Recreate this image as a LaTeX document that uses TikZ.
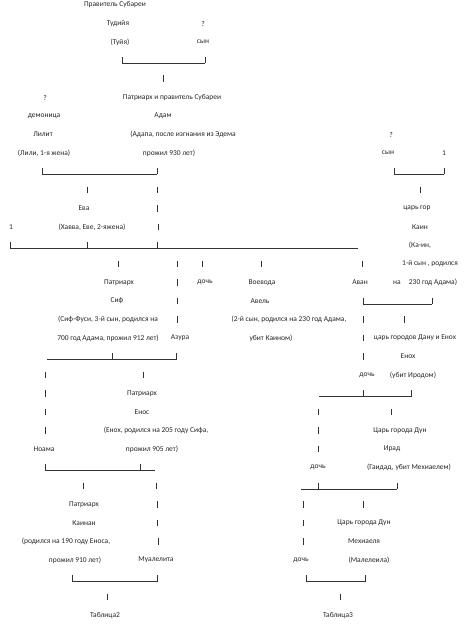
\documentclass[tikz,border=0pt]{standalone}
\usepackage{fontspec}
\setmainfont{Carlito}
\newcommand{\myry}[1]{(5+18.5*(#1))}
\newcommand{\myvb}[2]{\draw[ln] (#1,{\myry{#2}-3.5}) -- (#1,{\myry{#2}+3});}
\newcommand{\myhb}[3]{\draw[ln] (#1,{\myry{#3}+2.8}) -- (#2,{\myry{#3}+2.8});}
\begin{document}
\begin{tikzpicture}[x=1bp,y=-1bp,
  lbl/.style={inner sep=0pt, text=black!85, font=\fontsize{7.5}{9}\selectfont},
  ln/.style={line width=0.55bp, draw=black!80}]
\useasboundingbox (0,0) rectangle (472,632);
% row 0-4
\node[lbl] (r0a) at (115,{\myry{0}}) {Правитель Субареи};
\node[lbl] (r1a) at (118,{\myry{1}}) {Тудийя};
\node[lbl] (r1b) at (203,{\myry{1}}) {?};
\node[lbl] (r2a) at (120,{\myry{2}}) {(Туйя)};
\node[lbl] (r2b) at (203,{\myry{2}}) {сын};
\myvb{122}{3}\myhb{122}{205}{3}\myvb{205}{3}
\myvb{163}{4}
% row 5-8
\node[lbl] (r5a) at (45,{\myry{5}}) {?};
\node[lbl] (r5b) at (172,{\myry{5}}) {Патриарх и правитель Субареи};
\node[lbl] (r6a) at (44,{\myry{6}}) {демоница};
\node[lbl] (r6b) at (163,{\myry{6}}) {Адам};
\node[lbl] (r7a) at (43,{\myry{7}}) {Лилит};
\node[lbl] (r7b) at (183,{\myry{7}}) {(Адапа, после изгнания из Эдема};
\node[lbl] (r7c) at (391,{\myry{7}}) {?};
\node[lbl] (r8a) at (44,{\myry{8}}) {(Лили, 1-я жена)};
\node[lbl] (r8b) at (169,{\myry{8}}) {прожил 930 лет)};
\node[lbl] (r8c) at (388,{\myry{8}}) {сын};
\node[lbl] (r8d) at (444,{\myry{8}}) {1};
% row 9-13
\myvb{42}{9}\myhb{42}{157}{9}\myvb{157}{9}
\myvb{394}{9}\myhb{394}{444}{9}\myvb{444}{9}
\myvb{87}{10}\myvb{157}{10}\myvb{420}{10}
\node[lbl] (r11a) at (84,{\myry{11}}) {Ева};
\myvb{157}{11}
\node[lbl] (r11b) at (417,{\myry{11}}) {царь гор};
\node[lbl] (r12a) at (11,{\myry{12}}) {1};
\node[lbl] (r12b) at (92,{\myry{12}}) {(Хавва, Еве, 2-яжена)};
\myvb{158}{12}
\node[lbl] (r12c) at (420,{\myry{12}}) {Каин};
\myvb{10}{13}\myhb{10}{87}{13}\myvb{87}{13}\myhb{87}{157}{13}\myvb{157}{13}\myhb{157}{358}{13}
\node[lbl] (r13a) at (420,{\myry{13}}) {(Ка-ин,};
% row 14-18
\myvb{118}{14}\myvb{177}{14}\myvb{202}{14}\myvb{261}{14}\myvb{362}{14}
\node[lbl] (r14a) at (430,{\myry{14}}) {1-й сын , родился};
\node[lbl] (r15a) at (119,{\myry{15}}) {Патриарх};
\myvb{177}{15}
\node[lbl] (r15b) at (205,{\myry{15}}) {дочь};
\node[lbl] (r15c) at (262,{\myry{15}}) {Воевода};
\node[lbl] (r15d) at (360,{\myry{15}}) {Аван};
\node[lbl] (r15e) at (397,{\myry{15}}) {на};
\node[lbl] (r15f) at (433,{\myry{15}}) {230 год Адама)};
\node[lbl] (r16a) at (117,{\myry{16}}) {Сиф};
\myvb{177}{16}
\node[lbl] (r16b) at (260,{\myry{16}}) {Авель};
\myvb{363}{16}\myhb{363}{432}{16}\myvb{432}{16}
\node[lbl] (r17a) at (108,{\myry{17}}) {(Сиф-Фуси, 3-й сын, родился на};
\myvb{177}{17}
\node[lbl] (r17b) at (289,{\myry{17}}) {(2-й сын, родился на 230 год Адама,};
\myvb{363}{17}\myvb{404}{17}
\node[lbl] (r18a) at (108,{\myry{18}}) {700 год Адама, прожил 912 лет)};
\node[lbl] (r18b) at (180,{\myry{18}}) {Азура};
\node[lbl] (r18c) at (271,{\myry{18}}) {убит Каином)};
\myvb{363}{18}
\node[lbl] (r18d) at (415,{\myry{18}}) {царь городов Дану и Енох};
% row 19-24
\myhb{47}{112}{19}\myvb{112}{19}\myhb{112}{176}{19}\myvb{176}{19}
\myvb{363}{19}
\node[lbl] (r19a) at (408,{\myry{19}}) {Енох};
\myvb{45}{20}\myvb{143}{20}
\node[lbl] (r20a) at (367,{\myry{20}}) {дочь};
\node[lbl] (r20b) at (413,{\myry{20}}) {(убит Иродом)};
\myvb{45}{21}
\node[lbl] (r21a) at (142,{\myry{21}}) {Патриарх};
\myhb{319}{363}{21}\myvb{363}{21}\myhb{363}{411}{21}\myvb{411}{21}
\myvb{45}{22}
\node[lbl] (r22a) at (142,{\myry{22}}) {Енос};
\myvb{318}{22}\myvb{391}{22}
\myvb{45}{23}
\node[lbl] (r23a) at (156,{\myry{23}}) {(Енох, родился на 205 году Сифа,};
\myvb{318}{23}
\node[lbl] (r23b) at (400,{\myry{23}}) {Царь города Дун};
\node[lbl] (r24a) at (44,{\myry{24}}) {Ноама};
\node[lbl] (r24b) at (152,{\myry{24}}) {прожил 905 лет)};
\myvb{318}{24}
\node[lbl] (r24c) at (392,{\myry{24}}) {Ирад};
% row 25-30
\myvb{45}{25}\myhb{45}{140}{25}\myvb{140}{25}\myhb{140}{155}{25}
\node[lbl] (r25a) at (318,{\myry{25}}) {дочь};
\node[lbl] (r25b) at (409,{\myry{25}}) {(Гаидад, убит Мехиаелем)};
\myvb{83}{26}\myvb{156}{26}
\myhb{301}{318}{26}\myvb{318}{26}\myhb{318}{397}{26}\myvb{397}{26}
\node[lbl] (r27a) at (84,{\myry{27}}) {Патриарх};
\myvb{157}{27}\myvb{303}{27}\myvb{363}{27}
\node[lbl] (r28a) at (84,{\myry{28}}) {Каинан};
\myvb{157}{28}\myvb{303}{28}
\node[lbl] (r28b) at (364,{\myry{28}}) {Царь города Дун};
\node[lbl] (r29a) at (66,{\myry{29}}) {(родился на 190 году Еноса,};
\myvb{158}{29}\myvb{303}{29}
\node[lbl] (r29b) at (364,{\myry{29}}) {Мехиаеля};
\node[lbl] (r30a) at (75,{\myry{30}}) {прожил 910 лет)};
\node[lbl] (r30b) at (156,{\myry{30}}) {Муалелита};
\node[lbl] (r30c) at (301,{\myry{30}}) {дочь};
\node[lbl] (r30d) at (369,{\myry{30}}) {(Малелеила)};
% row 31-33
\myvb{72}{31}\myhb{72}{157}{31}\myvb{157}{31}
\myvb{306}{31}\myhb{306}{365}{31}\myvb{365}{31}
\myvb{107}{32}\myvb{340}{32}
\node[lbl] (r33a) at (105,{\myry{33}}) {Таблица2};
\node[lbl] (r33b) at (338,{\myry{33}}) {Таблица3};
\end{tikzpicture}
\end{document}
